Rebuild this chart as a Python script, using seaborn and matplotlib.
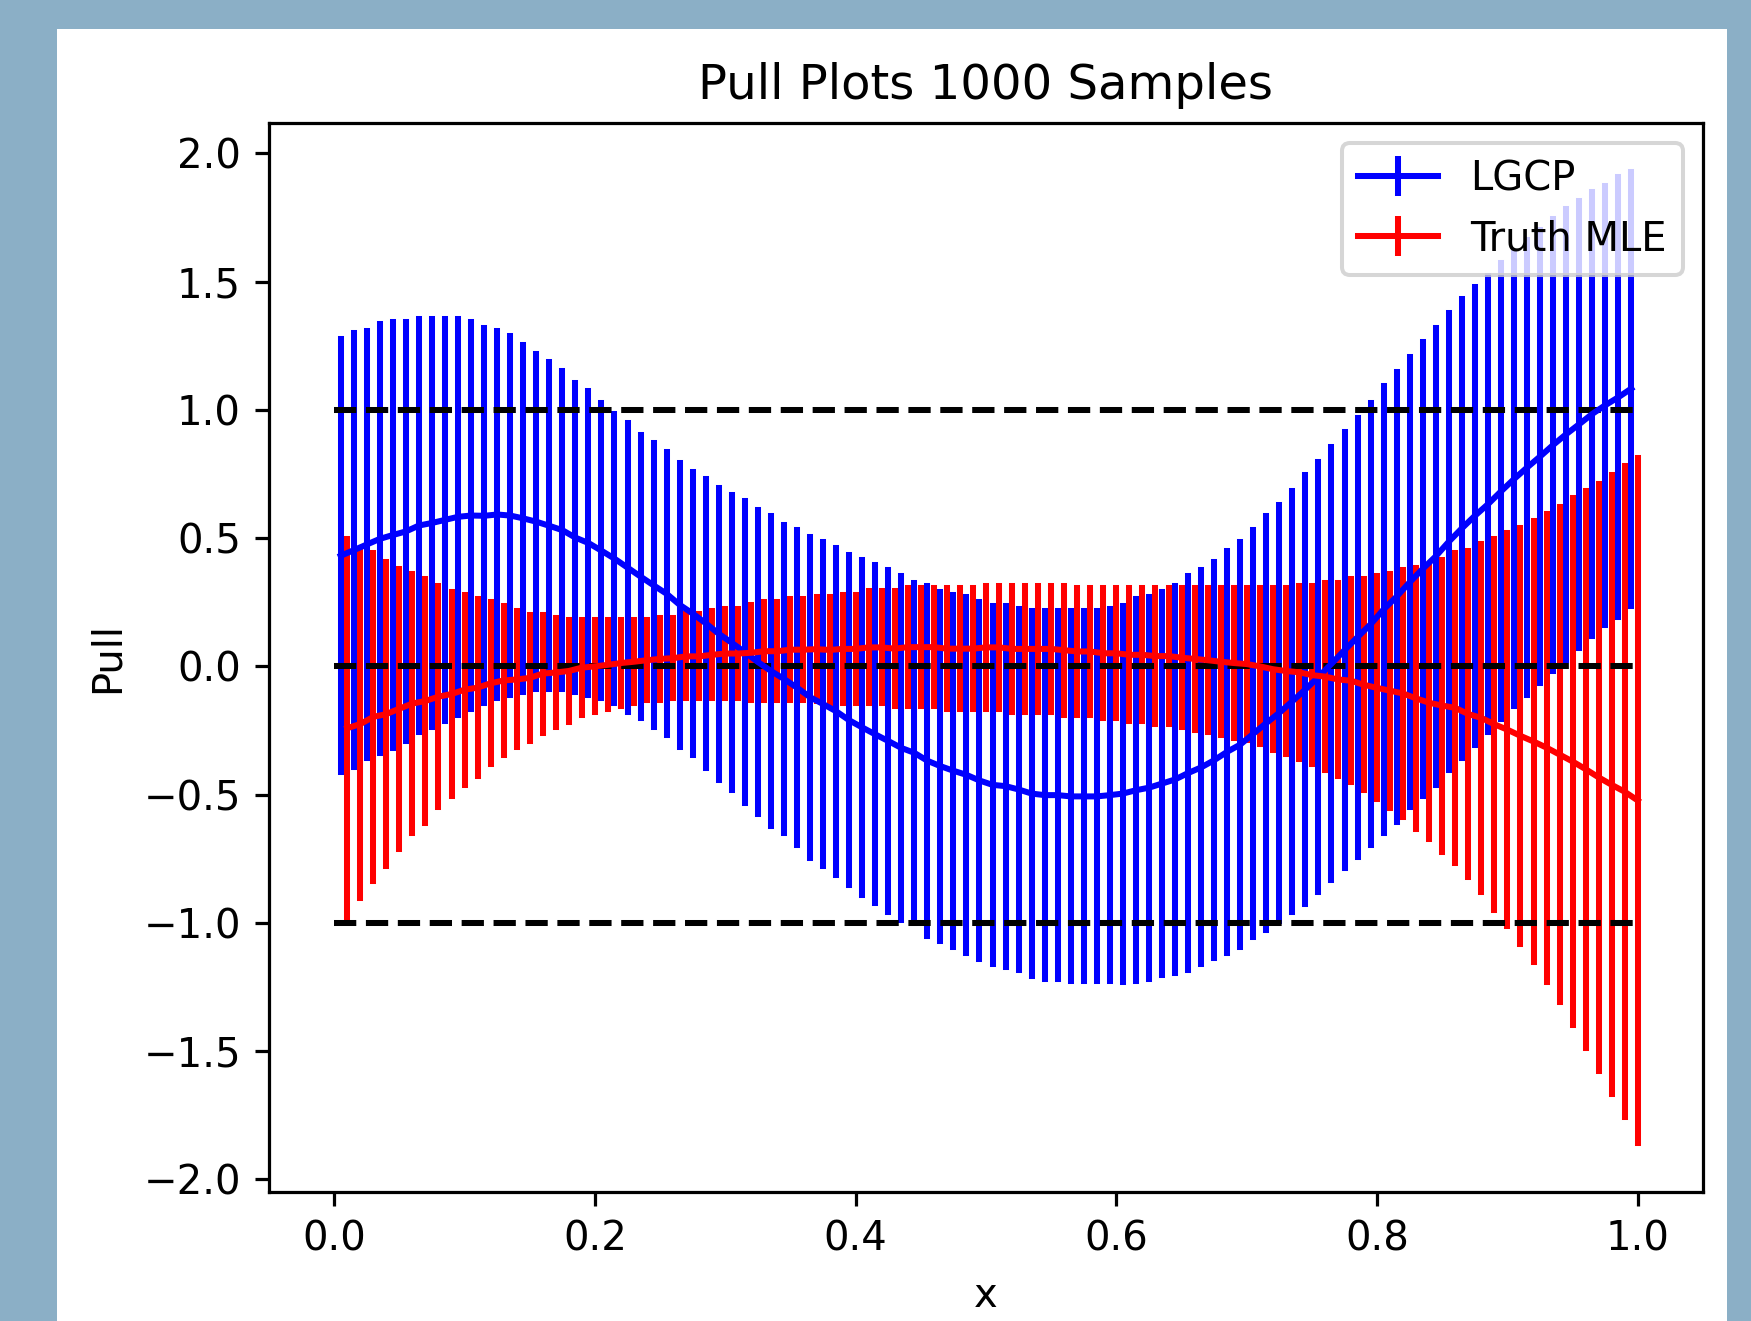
import numpy as np
import pandas as pd
import matplotlib
matplotlib.use("Agg")
import matplotlib.pyplot as plt
from matplotlib.patches import Rectangle
import seaborn as sns

# ---------------- data ----------------
x_lgcp = np.linspace(0.005, 0.995, 100)
x_mle = np.linspace(0.010, 1.000, 100)

lgcp_pull = [
    0.431, 0.453, 0.475, 0.497, 0.512, 0.526, 0.549, 0.559, 0.571, 0.583,
    0.588, 0.587, 0.592, 0.588, 0.577, 0.564, 0.548, 0.531, 0.502, 0.481,
    0.451, 0.420, 0.385, 0.350, 0.316, 0.283, 0.240, 0.206, 0.168, 0.127,
    0.092, 0.055, 0.017, -0.018, -0.049, -0.083, -0.120, -0.147, -0.175, -0.210,
    -0.238, -0.265, -0.291, -0.318, -0.337, -0.368, -0.389, -0.407, -0.423, -0.445,
    -0.462, -0.467, -0.480, -0.496, -0.502, -0.502, -0.507, -0.507, -0.507, -0.502,
    -0.496, -0.483, -0.473, -0.457, -0.441, -0.416, -0.394, -0.366, -0.333, -0.305,
    -0.263, -0.221, -0.181, -0.136, -0.090, -0.041, 0.010, 0.063, 0.114, 0.164,
    0.222, 0.272, 0.328, 0.380, 0.429, 0.486, 0.538, 0.587, 0.632, 0.682,
    0.730, 0.775, 0.818, 0.863, 0.905, 0.944, 0.984, 1.018, 1.049, 1.083,
]
lgcp_err = [
    0.844, 0.847, 0.834, 0.836, 0.831, 0.817, 0.806, 0.796, 0.785, 0.772,
    0.755, 0.731, 0.717, 0.700, 0.677, 0.654, 0.638, 0.621, 0.602, 0.593,
    0.576, 0.564, 0.564, 0.552, 0.553, 0.552, 0.553, 0.552, 0.564, 0.570,
    0.575, 0.588, 0.592, 0.603, 0.602, 0.614, 0.626, 0.630, 0.638, 0.643,
    0.654, 0.659, 0.665, 0.669, 0.663, 0.682, 0.680, 0.686, 0.694, 0.694,
    0.699, 0.704, 0.704, 0.710, 0.716, 0.716, 0.721, 0.721, 0.721, 0.726,
    0.733, 0.745, 0.745, 0.748, 0.755, 0.767, 0.768, 0.772, 0.784, 0.788,
    0.793, 0.806, 0.811, 0.821, 0.835, 0.838, 0.844, 0.850, 0.856, 0.861,
    0.872, 0.877, 0.878, 0.886, 0.890, 0.892, 0.894, 0.893, 0.889, 0.889,
    0.884, 0.887, 0.883, 0.883, 0.880, 0.872, 0.867, 0.856, 0.857, 0.846,
]
mle_pull = [
    -0.241, -0.225, -0.197, -0.186, -0.165, -0.145, -0.135, -0.118, -0.108, -0.091,
    -0.083, -0.066, -0.055, -0.051, -0.045, -0.028, -0.024, -0.018, -0.005, 0.000,
    0.006, 0.013, 0.018, 0.024, 0.029, 0.032, 0.039, 0.039, 0.045, 0.050,
    0.050, 0.053, 0.059, 0.059, 0.065, 0.065, 0.067, 0.064, 0.068, 0.068,
    0.074, 0.074, 0.069, 0.075, 0.075, 0.075, 0.069, 0.069, 0.069, 0.074,
    0.074, 0.068, 0.068, 0.068, 0.068, 0.063, 0.058, 0.058, 0.051, 0.051,
    0.045, 0.045, 0.040, 0.040, 0.034, 0.029, 0.024, 0.018, 0.013, 0.009,
    0.000, -0.011, -0.018, -0.023, -0.034, -0.040, -0.051, -0.056, -0.072, -0.084,
    -0.095, -0.106, -0.125, -0.142, -0.153, -0.162, -0.186, -0.201, -0.226, -0.247,
    -0.271, -0.293, -0.317, -0.344, -0.371, -0.401, -0.433, -0.462, -0.489, -0.523,
]
mle_err = [
    0.739, 0.678, 0.638, 0.592, 0.546, 0.506, 0.474, 0.432, 0.399, 0.370,
    0.345, 0.315, 0.292, 0.265, 0.247, 0.230, 0.213, 0.197, 0.184, 0.179,
    0.173, 0.167, 0.162, 0.156, 0.161, 0.157, 0.164, 0.164, 0.170, 0.175,
    0.175, 0.185, 0.191, 0.191, 0.197, 0.197, 0.204, 0.208, 0.212, 0.212,
    0.218, 0.218, 0.223, 0.229, 0.229, 0.229, 0.236, 0.236, 0.236, 0.241,
    0.241, 0.247, 0.247, 0.247, 0.247, 0.252, 0.247, 0.247, 0.253, 0.253,
    0.259, 0.259, 0.264, 0.264, 0.271, 0.276, 0.281, 0.287, 0.292, 0.295,
    0.304, 0.315, 0.322, 0.337, 0.348, 0.366, 0.377, 0.395, 0.411, 0.435,
    0.456, 0.480, 0.509, 0.533, 0.569, 0.603, 0.637, 0.677, 0.724, 0.765,
    0.811, 0.858, 0.912, 0.964, 1.026, 1.086, 1.145, 1.207, 1.269, 1.335,
]
ref_levels = [1.0, 0.0, -1.0]
ref_span = [0.0, 1.0]
series_labels = ["LGCP", "Truth MLE"]
series_colors = ["blue", "red"]


def long_frame(x, c, e):
    c = np.asarray(c)
    e = np.asarray(e)
    return pd.DataFrame({
        "x": np.concatenate([x, x]),
        "y": np.concatenate([c + e, c - e]),
    })


# ---------------- figure ----------------
W, H, DPI = 1751, 1321, 289
fig = plt.figure(figsize=(W / DPI, H / DPI), dpi=DPI, facecolor="#8bafc6")
fig.patches.append(Rectangle((57 / W, 0), (1727 - 57) / W, 1 - 29 / H,
                             transform=fig.transFigure, facecolor="white",
                             edgecolor="none", zorder=-5))
ax = fig.add_axes([269 / W, 1 - 1191.5 / H, (1703 - 269) / W, (1191.5 - 123) / H])

for x, c, e, col in [(x_lgcp, lgcp_pull, lgcp_err, series_colors[0]),
                     (x_mle, mle_pull, mle_err, series_colors[1])]:
    sns.lineplot(data=long_frame(x, c, e), x="x", y="y", ax=ax,
                 estimator="mean", errorbar=("pi", 100), err_style="bars",
                 color=col, zorder=3, legend=False)

for lvl in ref_levels:
    ax.plot(ref_span, [lvl, lvl], "k--", zorder=2.5)

# legend proxies drawn as errorbar handles
handles = []
for lab, col in zip(series_labels, series_colors):
    h = ax.errorbar([np.nan], [np.nan], yerr=[np.nan], color=col, label=lab)
    handles.append(h)
ax.legend(handles=handles, labels=series_labels, loc="upper right")

ax.set_title("Pull Plots 1000 Samples")
ax.set_xlabel("x")
ax.set_ylabel("Pull")

fig.savefig("out.png", dpi=DPI, facecolor=fig.get_facecolor())
